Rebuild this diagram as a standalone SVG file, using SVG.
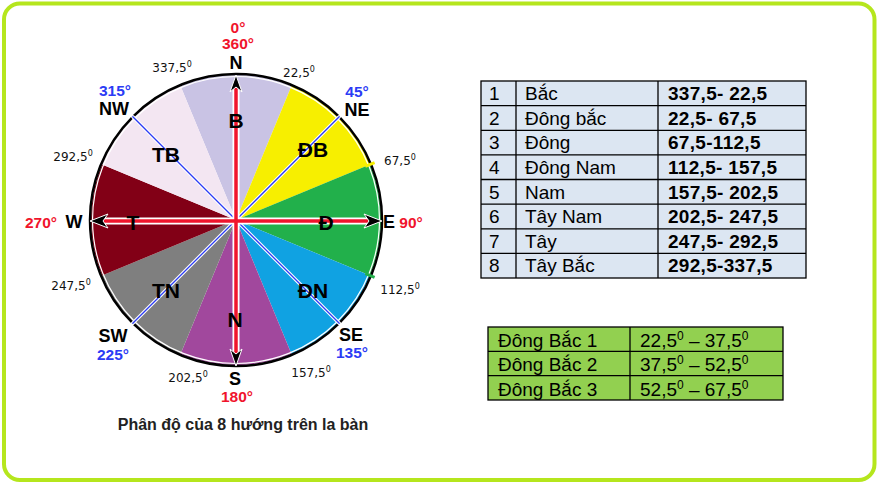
<svg xmlns="http://www.w3.org/2000/svg" width="879" height="483" viewBox="0 0 879 483">
<style>
.lbl{font-family:"Liberation Sans",Arial,sans-serif;font-weight:bold;text-anchor:middle}
.dir{font-size:18px;fill:#000}
.red{font-size:15.5px;fill:#f0142c}
.blue{font-size:15.5px;fill:#2b3bf5}
.deg{font-family:"DejaVu Sans",Verdana,sans-serif;font-size:12px;fill:#111;text-anchor:middle}
.sup{font-size:8px}
.sec{font-family:"Liberation Sans",Arial,sans-serif;font-size:21px;font-weight:bold;fill:#000;text-anchor:middle}
.tt{font-family:"Liberation Sans",Arial,sans-serif;font-size:19px;fill:#000}
.tb{font-family:"Liberation Sans",Arial,sans-serif;font-size:19px;font-weight:bold;fill:#000;letter-spacing:0.3px}
.grid{stroke:#000;stroke-width:1.3;fill:none}
</style>
<rect x="0" y="0" width="879" height="483" fill="#fff"/>
<rect x="4" y="3.5" width="870.5" height="476.5" rx="16" fill="none" stroke="#b5e61d" stroke-width="4"/>

<g id="compass">
  <g id="sectors">
    <path d="M236,220 L180.51,86.04 A145,145 0 0 1 291.49,86.04 Z" fill="#c9c3e4"/>
    <path d="M236,220 L291.49,86.04 A145,145 0 0 1 369.96,164.51 Z" fill="#f7ef00"/>
    <path d="M236,220 L369.96,164.51 A145,145 0 0 1 369.96,275.49 Z" fill="#22b04b"/>
    <path d="M236,220 L369.96,275.49 A145,145 0 0 1 291.49,353.96 Z" fill="#10a2e2"/>
    <path d="M236,220 L291.49,353.96 A145,145 0 0 1 180.51,353.96 Z" fill="#a1489d"/>
    <path d="M236,220 L180.51,353.96 A145,145 0 0 1 102.04,275.49 Z" fill="#7f7f7f"/>
    <path d="M236,220 L102.04,275.49 A145,145 0 0 1 102.04,164.51 Z" fill="#820016"/>
    <path d="M236,220 L102.04,164.51 A145,145 0 0 1 180.51,86.04 Z" fill="#f3e6f2"/>
  </g>
  <circle cx="236" cy="220" r="143.5" fill="none" stroke="#fff" stroke-width="1.2"/>
  <circle cx="236" cy="220" r="146" fill="none" stroke="#000" stroke-width="2.5"/>
  <line x1="365.3" y1="166.4" x2="374.6" y2="162.6" stroke="#f7ef00" stroke-width="3"/>
  <line x1="365.3" y1="273.6" x2="374.6" y2="277.4" stroke="#22b04b" stroke-width="3"/>

  <g id="diagonals" stroke-linecap="round">
    <g stroke="#fff" stroke-width="3.5">
      <line x1="236" y1="220" x2="339.2" y2="116.8"/>
      <line x1="236" y1="220" x2="132.8" y2="116.8"/>
      <line x1="236" y1="220" x2="339.2" y2="323.2"/>
      <line x1="236" y1="220" x2="132.8" y2="323.2"/>
    </g>
    <g stroke="#2b3bf5" stroke-width="1.3">
      <line x1="236" y1="220" x2="339.2" y2="116.8"/>
      <line x1="236" y1="220" x2="132.8" y2="116.8"/>
      <line x1="236" y1="220" x2="339.2" y2="323.2"/>
      <line x1="236" y1="220" x2="132.8" y2="323.2"/>
    </g>
  </g>

  <g id="arrows">
    <g stroke="#fff" stroke-width="7">
      <line x1="236" y1="88" x2="236" y2="353"/>
      <line x1="104" y1="221" x2="368" y2="221"/>
    </g>
    <g stroke="#f0142c" stroke-width="3.5">
      <line x1="236" y1="88" x2="236" y2="353"/>
      <line x1="104" y1="221" x2="368" y2="221"/>
    </g>
    <g fill="#000" stroke="#fff" stroke-width="1" stroke-linejoin="miter">
      <polygon points="236,75 242,92 236,87 230,92"/>
      <polygon points="236,366 242,349 236,354 230,349"/>
      <polygon points="382,221 364,214 369,221 364,228"/>
      <polygon points="90,221 108,214 103,221 108,228"/>
    </g>
  </g>

  <g id="sector-labels">
    <text class="sec" x="236" y="128">B</text>
    <text class="sec" x="313" y="157">ĐB</text>
    <text class="sec" x="326" y="230">Đ</text>
    <text class="sec" x="313" y="298">ĐN</text>
    <text class="sec" x="235" y="327">N</text>
    <text class="sec" x="166" y="298">TN</text>
    <text class="sec" x="133" y="230">T</text>
    <text class="sec" x="166" y="162">TB</text>
  </g>

  <g id="direction-labels">
    <text class="lbl red" x="238" y="33">0°</text>
    <text class="lbl red" x="238" y="49">360°</text>
    <text class="lbl dir" x="236" y="69">N</text>
    <text class="lbl blue" x="115" y="96">315°</text>
    <text class="lbl dir" x="114" y="115">NW</text>
    <text class="lbl blue" x="357" y="97">45°</text>
    <text class="lbl dir" x="357" y="116">NE</text>
    <text class="lbl dir" x="74" y="228">W</text>
    <text class="lbl red" x="41" y="228">270°</text>
    <text class="lbl dir" x="389" y="228">E</text>
    <text class="lbl red" x="411" y="228">90°</text>
    <text class="lbl dir" x="113" y="342">SW</text>
    <text class="lbl blue" x="113" y="360">225°</text>
    <text class="lbl dir" x="351" y="341">SE</text>
    <text class="lbl blue" x="352" y="358">135°</text>
    <text class="lbl dir" x="235" y="385">S</text>
    <text class="lbl red" x="237" y="402">180°</text>
  </g>

  <g id="degree-labels">
    <text class="deg" x="172" y="72">337,5<tspan class="sup" dy="-5">0</tspan></text>
    <text class="deg" x="299" y="77">22,5<tspan class="sup" dy="-5">0</tspan></text>
    <text class="deg" x="400" y="165">67,5<tspan class="sup" dy="-5">0</tspan></text>
    <text class="deg" x="73" y="161">292,5<tspan class="sup" dy="-5">0</tspan></text>
    <text class="deg" x="71" y="290">247,5<tspan class="sup" dy="-5">0</tspan></text>
    <text class="deg" x="400" y="294">112,5<tspan class="sup" dy="-5">0</tspan></text>
    <text class="deg" x="188" y="382">202,5<tspan class="sup" dy="-5">0</tspan></text>
    <text class="deg" x="311" y="377">157,5<tspan class="sup" dy="-5">0</tspan></text>
  </g>

  <text id="caption" x="243" y="430" font-family="'Liberation Sans',Arial,sans-serif" font-size="16" font-weight="bold" fill="#222" text-anchor="middle">Phân độ của 8 hướng trên la bàn</text>
</g>

<g id="table-directions">
  <rect x="481" y="81" width="325" height="197" fill="#dce6f2"/>
  <rect x="481" y="81" width="325" height="197" class="grid" stroke-width="1.8"/>
  <g class="grid">
    <line x1="516" y1="81" x2="516" y2="278"/>
    <line x1="658" y1="81" x2="658" y2="278"/>
    <line x1="481" y1="105.6" x2="806" y2="105.6"/>
    <line x1="481" y1="130.3" x2="806" y2="130.3"/>
    <line x1="481" y1="154.9" x2="806" y2="154.9"/>
    <line x1="481" y1="179.5" x2="806" y2="179.5"/>
    <line x1="481" y1="204.1" x2="806" y2="204.1"/>
    <line x1="481" y1="228.8" x2="806" y2="228.8"/>
    <line x1="481" y1="253.4" x2="806" y2="253.4"/>
  </g>
  <g class="tt">
    <text x="489" y="100">1</text><text x="525" y="100">Bắc</text>
    <text x="489" y="124.6">2</text><text x="525" y="124.6">Đông bắc</text>
    <text x="489" y="149.2">3</text><text x="525" y="149.2">Đông</text>
    <text x="489" y="173.9">4</text><text x="525" y="173.9">Đông Nam</text>
    <text x="489" y="198.5">5</text><text x="525" y="198.5">Nam</text>
    <text x="489" y="223.1">6</text><text x="525" y="223.1">Tây Nam</text>
    <text x="489" y="247.7">7</text><text x="525" y="247.7">Tây</text>
    <text x="489" y="272.4">8</text><text x="525" y="272.4">Tây Bắc</text>
  </g>
  <g class="tb">
    <text x="668" y="100">337,5- 22,5</text>
    <text x="668" y="124.6">22,5- 67,5</text>
    <text x="668" y="149.2">67,5-112,5</text>
    <text x="668" y="173.9">112,5- 157,5</text>
    <text x="668" y="198.5">157,5- 202,5</text>
    <text x="668" y="223.1">202,5- 247,5</text>
    <text x="668" y="247.7">247,5- 292,5</text>
    <text x="668" y="272.4">292,5-337,5</text>
  </g>
</g>

<g id="table-northeast">
  <rect x="488" y="327" width="295" height="73" fill="#92d050"/>
  <rect x="488" y="327" width="295" height="73" class="grid"/>
  <g class="grid">
    <line x1="630" y1="327" x2="630" y2="400"/>
    <line x1="488" y1="351.3" x2="783" y2="351.3"/>
    <line x1="488" y1="375.7" x2="783" y2="375.7"/>
  </g>
  <g class="tt">
    <text x="498" y="347">Đông Bắc 1</text>
    <text x="498" y="371.3">Đông Bắc 2</text>
    <text x="498" y="395.7">Đông Bắc 3</text>
    <text x="640" y="347">22,5<tspan font-size="12" dy="-7">0</tspan><tspan dy="7"> – 37,5</tspan><tspan font-size="12" dy="-7">0</tspan></text>
    <text x="640" y="371.3">37,5<tspan font-size="12" dy="-7">0</tspan><tspan dy="7"> – 52,5</tspan><tspan font-size="12" dy="-7">0</tspan></text>
    <text x="640" y="395.7">52,5<tspan font-size="12" dy="-7">0</tspan><tspan dy="7"> – 67,5</tspan><tspan font-size="12" dy="-7">0</tspan></text>
  </g>
</g>
</svg>
